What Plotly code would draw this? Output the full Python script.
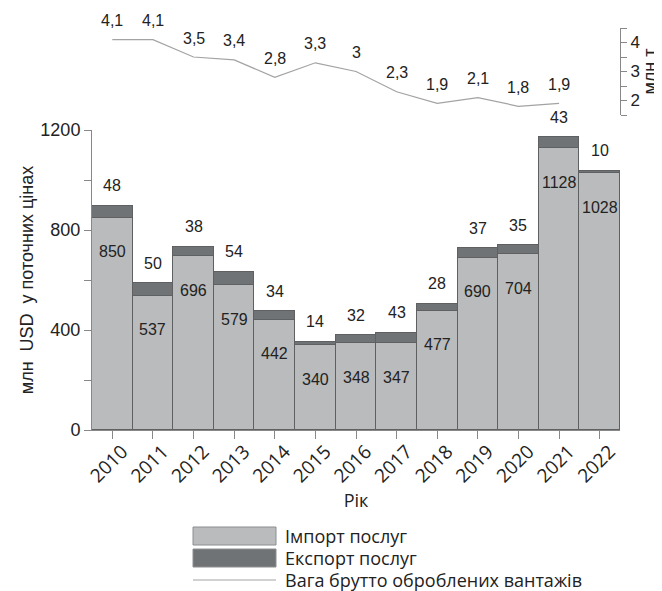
import plotly.graph_objects as go

years = ["2010", "2011", "2012", "2013", "2014", "2015", "2016",
         "2017", "2018", "2019", "2020", "2021", "2022"]
imports = [850, 537, 696, 579, 442, 340, 348, 347, 477, 690, 704, 1128, 1028]
exports = [48, 50, 38, 54, 34, 14, 32, 43, 28, 37, 35, 43, 10]
weight_years = years[:12]
weight = [4.1, 4.1, 3.5, 3.4, 2.8, 3.3, 3.0, 2.3, 1.9, 2.1, 1.8, 1.9]

C_IMP = "#b9bbbc"
C_EXP = "#707375"
C_EDGE = "#5e6062"
C_LINE = "#a3a3a3"
NUM_FONT = "Liberation Sans"
TXT_FONT = "Open Sans"
NB = "\u00a0"

fig = go.Figure()
fig.add_trace(go.Bar(x=years, y=imports, name="Імпорт послуг",
                     marker=dict(color=C_IMP, line=dict(color=C_EDGE, width=1)),
                     yaxis="y"))
fig.add_trace(go.Bar(x=years, y=exports, name="Експорт послуг",
                     marker=dict(color=C_EXP, line=dict(color=C_EDGE, width=1)),
                     yaxis="y"))
fig.add_trace(go.Scatter(x=weight_years, y=weight, mode="lines",
                         name="Вага брутто оброблених вантажів",
                         line=dict(color=C_LINE, width=1.2), yaxis="y2"))

ann = []
for i, (imp, exp) in enumerate(zip(imports, exports)):
    ann.append(dict(x=i, y=imp, xref="x", yref="y", text=str(imp), showarrow=False,
                    yshift=-34, font=dict(family=NUM_FONT, size=16, color="#222")))
    ann.append(dict(x=i, y=imp + exp, xref="x", yref="y", text=str(exp), showarrow=False,
                    yshift=20, font=dict(family=NUM_FONT, size=16, color="#222")))
for i, w in enumerate(weight):
    ann.append(dict(x=i, y=w, xref="x", yref="y2", text=f"{w:g}".replace(".", ","),
                    showarrow=False, yshift=19,
                    font=dict(family=NUM_FONT, size=16, color="#222")))

# page offset (body margin) is 8 px; plot area spans screen x 92..620, y 28..430
OFF = 8
L, T, PW, PH = 92 - OFF, 28 - OFF, 528, 402


def px_x(p):
    return (p - 92) / float(PW)


def px_y(p):
    return (430 - p) / float(PH)


shapes = [
    dict(type="rect", xref="paper", yref="paper", x0=px_x(193), x1=px_x(276),
         y0=px_y(545), y1=px_y(527), fillcolor=C_IMP, line=dict(color="#8c8e90", width=1)),
    dict(type="rect", xref="paper", yref="paper", x0=px_x(193), x1=px_x(276),
         y0=px_y(567), y1=px_y(549), fillcolor=C_EXP, line=dict(color="#8c8e90", width=1)),
    dict(type="line", xref="paper", yref="paper", x0=px_x(193), x1=px_x(276),
         y0=px_y(580), y1=px_y(580), line=dict(color=C_LINE, width=1.2)),
]
for label, py in [("Імпорт послуг", 536), ("Експорт послуг", 558),
                  ("Вага брутто оброблених вантажів", 580)]:
    ann.append(dict(x=px_x(283), y=px_y(py), xref="paper", yref="paper", text=label,
                    showarrow=False, xanchor="left", yanchor="middle",
                    font=dict(family=TXT_FONT, size=18, color="#222")))

fig.update_layout(
    width=662 - OFF, height=591 - OFF,
    margin=dict(l=L, r=662 - OFF - L - PW, t=T, b=591 - OFF - T - PH),
    paper_bgcolor="white", plot_bgcolor="white",
    barmode="stack", bargap=0,
    showlegend=False,
    annotations=ann, shapes=shapes,
    xaxis=dict(type="category", range=[-0.5, 12.5], showline=True, linecolor="#888",
               ticks="outside", ticklen=8, tickcolor="#888", tickangle=-45,
               ticklabelshift=10, ticklabelstandoff=-6,
               tickfont=dict(family=TXT_FONT, size=19, color="#222"),
               title=dict(text="Рік", font=dict(family=TXT_FONT, size=18, color="#222"),
                          standoff=0),
               automargin=False, showgrid=False, zeroline=False),
    yaxis=dict(domain=[0, 300 / 402.0], range=[0, 1200], showline=True, linecolor="#888",
               ticks="outside", ticklen=7, tickcolor="#888",
               tickvals=[0, 200, 400, 600, 800, 1000, 1200],
               ticktext=["0", "", "400", "", "800", "", "1200"],
               tickfont=dict(family=NUM_FONT, size=18, color="#222"),
               title=dict(text=f"млн{NB}{NB}USD{NB}{NB}у поточних цінах",
                          font=dict(family=NUM_FONT, size=18, color="#222"), standoff=2),
               automargin=False, showgrid=False, zeroline=False),
    yaxis2=dict(domain=[(430 - 115) / 402.0, 1], range=[1.5, 4.5], anchor="x",
                side="right", showline=True, linecolor="#888",
                ticks="outside", ticklen=6, tickcolor="#888",
                tickvals=[1.5, 2, 2.5, 3, 3.5, 4, 4.5],
                ticktext=["", "2", "", "3", "", "4", ""],
                tickfont=dict(family=NUM_FONT, size=17, color="#222"),
                title=dict(text="млн т", font=dict(family=NUM_FONT, size=18, color="#222"),
                           standoff=3),
                automargin=False, showgrid=False, zeroline=False),
)

fig.write_html("out.html")
